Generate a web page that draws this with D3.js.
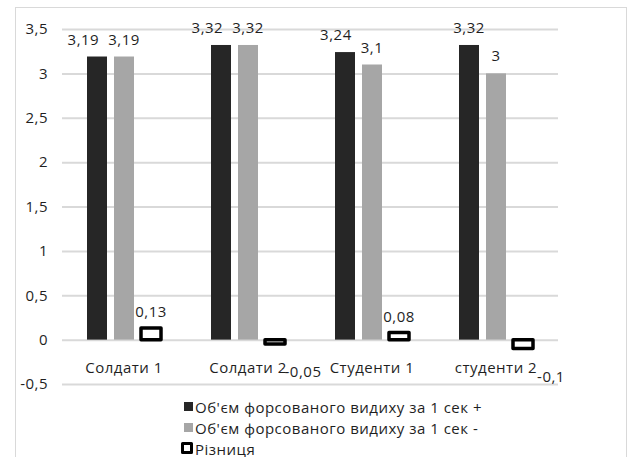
<!DOCTYPE html>
<html>
<head>
<meta charset="utf-8">
<script src="https://cdn.jsdelivr.net/npm/d3@7"></script>
<style>
  html, body { margin: 0; padding: 0; background: #fff; }
  svg { display: block; }
  text { font-family: "Open Sans", "Noto Sans", sans-serif; fill: #1f1f1f; }
</style>
</head>
<body>
<svg id="chart" width="632" height="457"></svg>
<script>
const categories = ["Солдати 1", "Солдати 2", "Студенти 1", "студенти 2"];
const seriesNames = [
  "Об'єм форсованого видиху за 1 сек +",
  "Об'єм форсованого видиху за 1 сек -",
  "Різниця"
];
const plusValues = [3.19, 3.32, 3.24, 3.32];
const minusValues = [3.19, 3.32, 3.1, 3.0];
const diffValues = [0.13, -0.05, 0.08, -0.1];
const yTicks = [-0.5, 0, 0.5, 1, 1.5, 2, 2.5, 3, 3.5];

const fmt = v => String(v).replace(".", ",");
const FS = 15, LS = 0.5;

const svg = d3.select("#chart");

// chart border
svg.append("rect")
  .attr("x", 15.5).attr("y", 7.5)
  .attr("width", 611).attr("height", 460)
  .attr("fill", "none").attr("stroke", "#d9d9d9").attr("stroke-width", 1);

const plotLeft = 62, plotRight = 558;
const y = d3.scaleLinear().domain([-0.5, 3.5]).range([384, 29]);
const x = d3.scaleBand().domain(categories).range([plotLeft, plotRight]).padding(0);

const barW = 20, step = 27;
const offsets = [-step, 0, step];

// gridlines + y axis
const yAxis = d3.axisLeft(y).tickValues(yTicks).tickFormat(fmt)
  .tickSize(-(plotRight - plotLeft)).tickPadding(14);
const gAxis = svg.append("g").attr("transform", `translate(${plotLeft},0)`).call(yAxis);
gAxis.select(".domain").remove();
gAxis.selectAll(".tick line").attr("stroke", "#d9d9d9").attr("stroke-width", 2);
gAxis.selectAll(".tick text").attr("font-size", FS).attr("fill", "#1f1f1f")
  .attr("letter-spacing", LS)
  .attr("font-family", "'Open Sans', sans-serif");

// bars
const series = [
  { values: plusValues, fill: "#262626" },
  { values: minusValues, fill: "#a6a6a6" }
];

series.forEach((s, si) => {
  svg.append("g").selectAll("rect").data(s.values).join("rect")
    .attr("x", (d, i) => x(categories[i]) + x.bandwidth() / 2 + offsets[si] - barW / 2)
    .attr("y", d => y(Math.max(0, d)))
    .attr("width", barW)
    .attr("height", d => Math.abs(y(d) - y(0)))
    .attr("fill", s.fill);
});

svg.append("g").selectAll("rect").data(diffValues).join("rect")
  .attr("x", (d, i) => x(categories[i]) + x.bandwidth() / 2 + offsets[2] - barW / 2)
  .attr("y", d => y(Math.max(0, d)))
  .attr("width", barW)
  .attr("height", d => Math.abs(y(d) - y(0)))
  .attr("fill", "#fff")
  .attr("stroke", "#000")
  .attr("stroke-width", 3.5)
  .attr("stroke-linejoin", "round");

// data labels
const labelG = svg.append("g").attr("font-size", FS).attr("letter-spacing", LS);
const labelsBySeries = [plusValues, minusValues].map((vals, si) =>
  labelG.selectAll(null).data(vals).join("text")
    .attr("x", (d, i) => x(categories[i]) + x.bandwidth() / 2 + offsets[si])
    .attr("y", d => y(d) - 12)
    .attr("text-anchor", "middle")
    .text(fmt)
);

// simple collision avoidance between the two tall labels
categories.forEach((c, i) => {
  const a = labelsBySeries[0].nodes()[i], b = labelsBySeries[1].nodes()[i];
  const ba = a.getBBox(), bb = b.getBBox();
  const overlapX = ba.x + ba.width > bb.x && bb.x + bb.width > ba.x;
  const overlapY = ba.y + ba.height > bb.y && bb.y + bb.height > ba.y;
  if (overlapX && overlapY) {
    const shift = (ba.x + ba.width) - (bb.x - 9);
    d3.select(a).attr("x", +d3.select(a).attr("x") - shift);
  }
});

labelG.selectAll(null).data(diffValues).join("text")
  .attr("x", (d, i) => x(categories[i]) + x.bandwidth() / 2 + offsets[2] + (d < 0 ? 28 : 0))
  .attr("y", d => d >= 0 ? y(d) - 11 : y(d) + 33)
  .attr("text-anchor", "middle")
  .text(fmt);

// category labels
svg.append("g").selectAll("text").data(categories).join("text")
  .attr("x", d => x(d) + x.bandwidth() / 2)
  .attr("y", 373)
  .attr("text-anchor", "middle")
  .attr("font-size", FS)
  .attr("letter-spacing", LS)
  .text(d => d);

// legend
const legend = svg.append("g").attr("transform", "translate(183,0)");
const rowY = [407, 428, 449];
seriesNames.forEach((name, i) => {
  const g = legend.append("g").attr("transform", `translate(0,${rowY[i]})`);
  if (i < 2) {
    g.append("rect").attr("x", 1).attr("y", -5).attr("width", 9).attr("height", 9)
      .attr("fill", series[i].fill);
  } else {
    g.append("rect").attr("x", -0.5).attr("y", -5.5).attr("width", 9).attr("height", 9)
      .attr("fill", "#fff").attr("stroke", "#000").attr("stroke-width", 3)
      .attr("stroke-linejoin", "round");
  }
  g.append("text").attr("x", 12).attr("y", 5.5).attr("font-size", FS)
    .attr("letter-spacing", LS).text(name);
});
</script>
</body>
</html>
